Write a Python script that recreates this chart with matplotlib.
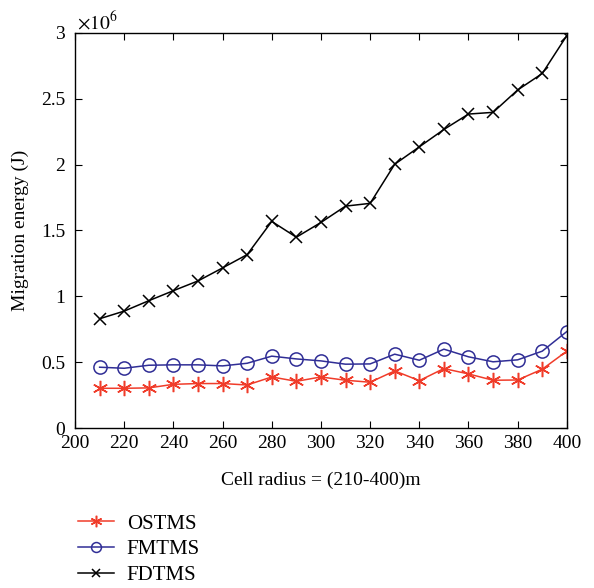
import matplotlib
matplotlib.use("Agg")
import matplotlib.pyplot as plt
from matplotlib.ticker import FuncFormatter

# Data (energy in units of 1e6 J)
radius = [210, 220, 230, 240, 250, 260, 270, 280, 290, 300,
          310, 320, 330, 340, 350, 360, 370, 380, 390, 400]
ostms = [0.302, 0.302, 0.305, 0.332, 0.338, 0.338, 0.327, 0.388, 0.355, 0.388,
         0.363, 0.348, 0.434, 0.360, 0.452, 0.411, 0.363, 0.365, 0.447, 0.584]
fmtms = [0.462, 0.454, 0.477, 0.480, 0.480, 0.472, 0.492, 0.546, 0.525, 0.510,
         0.485, 0.487, 0.561, 0.515, 0.599, 0.541, 0.503, 0.518, 0.584, 0.733]
fdtms = [0.830, 0.888, 0.967, 1.043, 1.117, 1.216, 1.317, 1.569, 1.449, 1.561,
         1.685, 1.706, 2.003, 2.135, 2.267, 2.384, 2.397, 2.567, 2.692, 2.980]

plt.rcParams['font.family'] = ['Liberation Serif', 'DejaVu Serif']
plt.rcParams['mathtext.fontset'] = 'stix'

fig = plt.figure(figsize=(5.94, 5.88), dpi=100)
ax = fig.add_axes([0.1263, 0.272, 0.828, 0.672])

# asterisk marker: 3 strokes, one vertical
l1, = ax.plot(radius, ostms, color='#f03c2a', marker=(6, 2, 0), markersize=11,
              markeredgewidth=1.1, linewidth=1.1, label='OSTMS')
l2, = ax.plot(radius, fmtms, color='#302e96', marker='o', markersize=9.5,
              markerfacecolor='none', markeredgewidth=1.1, linewidth=1.1,
              label='FMTMS')
l3, = ax.plot(radius, fdtms, color='black', marker='x', markersize=8,
              markeredgewidth=1.1, linewidth=1.1, label='FDTMS')

ax.set_xlim(200, 400)
ax.set_ylim(0, 3)
ax.set_xticks(range(200, 401, 20))
ax.set_yticks([0, 0.5, 1, 1.5, 2, 2.5, 3])
ax.yaxis.set_major_formatter(FuncFormatter(lambda v, p: '%g' % v))
ax.tick_params(direction='in', top=True, right=True, length=5,
               labelsize=14, width=0.8, pad=5)
ax.tick_params(axis='y', pad=7)
for s in ax.spines.values():
    s.set_linewidth(1.0)

ax.text(0.005, 1.0, r'$\times10^6$', transform=ax.transAxes,
        fontsize=14, ha='left', va='bottom')

ax.set_xlabel('Cell radius = (210-400)m', fontsize=14, labelpad=14)
ax.set_ylabel('Migration energy (J)', fontsize=14, labelpad=9)

fig.legend(handles=[l1, l2, l3], loc='upper left',
           bbox_to_anchor=(0.117, 0.14), frameon=False, fontsize=15,
           handlelength=1.75, handletextpad=0.6, labelspacing=0.3,
           markerscale=0.75, borderaxespad=0)

fig.savefig('out.png', dpi=100)
